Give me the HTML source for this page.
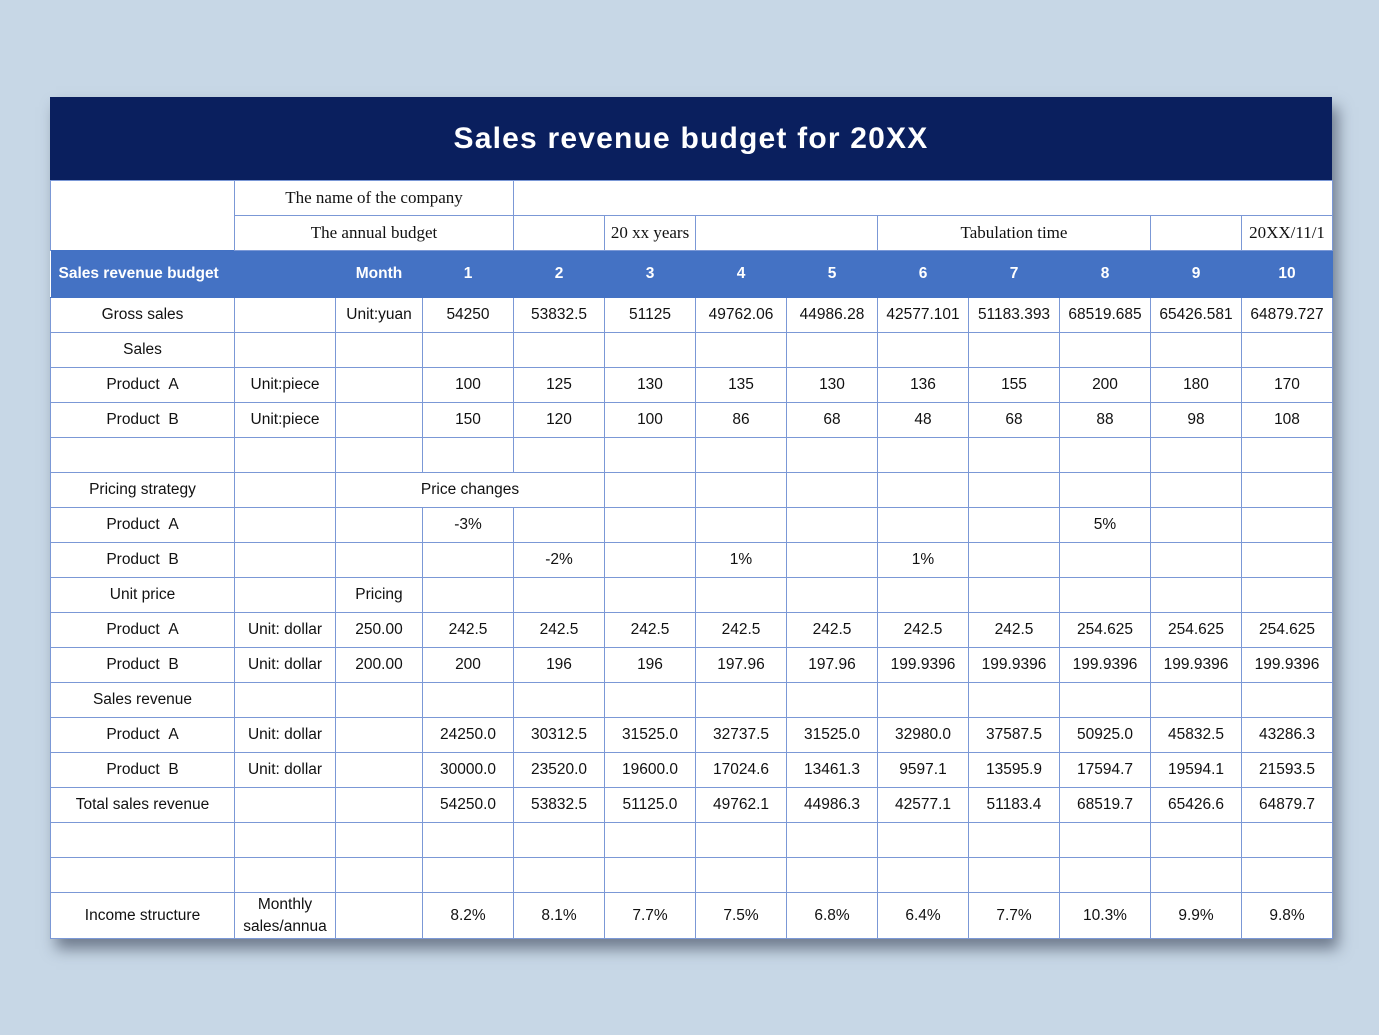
<!DOCTYPE html>
<html><head><meta charset="utf-8"><style>
body{margin:0;width:1379px;height:1035px;background:#c7d7e6;position:relative;overflow:hidden;font-family:"Liberation Sans",sans-serif}
.card{position:absolute;left:50px;top:97px;width:1282px;box-shadow:6px 10px 14px rgba(40,50,70,0.55);background:#fff}
.title{height:83px;background:#0a1f5e;color:#fff;font-weight:bold;font-size:30px;text-align:center;line-height:83px;letter-spacing:1.2px}
table{border-collapse:collapse;table-layout:fixed;width:1282px}
td{border:1px solid #7b98d6;text-align:center;font-size:15.5px;color:#111;padding:0;white-space:nowrap;overflow:hidden;height:35px;box-sizing:border-box}
tr.s td{font-family:"Liberation Serif",serif;font-size:17px}
tr.h td{background:#4472c4;color:#fff;font-weight:bold;border-left:none;border-right:none;height:47px;border-color:#4472c4}
tr.last td{height:46px}
</style></head><body>
<div class="card">
<div class="title">Sales revenue budget for 20XX</div>
<table>
<colgroup><col style="width:184px"><col style="width:101px"><col style="width:87px"><col span="10" style="width:91px"></colgroup>
<tr class="s"><td rowspan="2" style="border-bottom:none"></td><td colspan="3" style="height:34px">The name of the company</td><td colspan="9"></td></tr>
<tr class="s"><td colspan="3" style="height:35px">The annual budget</td><td></td><td>20 xx years</td><td colspan="2"></td><td colspan="3">Tabulation time</td><td></td><td>20XX/11/1</td></tr>
<tr class="h"><td colspan="2" style="text-align:left;padding-left:8px">Sales revenue budget</td><td>Month</td><td>1</td><td>2</td><td>3</td><td>4</td><td>5</td><td>6</td><td>7</td><td>8</td><td>9</td><td>10</td></tr>
<tr><td>Gross sales</td><td></td><td>Unit:yuan</td><td>54250</td><td>53832.5</td><td>51125</td><td>49762.06</td><td>44986.28</td><td>42577.101</td><td>51183.393</td><td>68519.685</td><td>65426.581</td><td>64879.727</td></tr>
<tr><td>Sales</td><td></td><td></td><td></td><td></td><td></td><td></td><td></td><td></td><td></td><td></td><td></td><td></td></tr>
<tr><td>Product &nbsp;A</td><td>Unit:piece</td><td></td><td>100</td><td>125</td><td>130</td><td>135</td><td>130</td><td>136</td><td>155</td><td>200</td><td>180</td><td>170</td></tr>
<tr><td>Product &nbsp;B</td><td>Unit:piece</td><td></td><td>150</td><td>120</td><td>100</td><td>86</td><td>68</td><td>48</td><td>68</td><td>88</td><td>98</td><td>108</td></tr>
<tr><td></td><td></td><td></td><td></td><td></td><td></td><td></td><td></td><td></td><td></td><td></td><td></td><td></td></tr>
<tr><td>Pricing strategy</td><td></td><td colspan="3">Price changes</td><td></td><td></td><td></td><td></td><td></td><td></td><td></td><td></td></tr>
<tr><td>Product &nbsp;A</td><td></td><td></td><td>-3%</td><td></td><td></td><td></td><td></td><td></td><td></td><td>5%</td><td></td><td></td></tr>
<tr><td>Product &nbsp;B</td><td></td><td></td><td></td><td>-2%</td><td></td><td>1%</td><td></td><td>1%</td><td></td><td></td><td></td><td></td></tr>
<tr><td>Unit price</td><td></td><td>Pricing</td><td></td><td></td><td></td><td></td><td></td><td></td><td></td><td></td><td></td><td></td></tr>
<tr><td>Product &nbsp;A</td><td>Unit: dollar</td><td>250.00</td><td>242.5</td><td>242.5</td><td>242.5</td><td>242.5</td><td>242.5</td><td>242.5</td><td>242.5</td><td>254.625</td><td>254.625</td><td>254.625</td></tr>
<tr><td>Product &nbsp;B</td><td>Unit: dollar</td><td>200.00</td><td>200</td><td>196</td><td>196</td><td>197.96</td><td>197.96</td><td>199.9396</td><td>199.9396</td><td>199.9396</td><td>199.9396</td><td>199.9396</td></tr>
<tr><td>Sales revenue</td><td></td><td></td><td></td><td></td><td></td><td></td><td></td><td></td><td></td><td></td><td></td><td></td></tr>
<tr><td>Product &nbsp;A</td><td>Unit: dollar</td><td></td><td>24250.0</td><td>30312.5</td><td>31525.0</td><td>32737.5</td><td>31525.0</td><td>32980.0</td><td>37587.5</td><td>50925.0</td><td>45832.5</td><td>43286.3</td></tr>
<tr><td>Product &nbsp;B</td><td>Unit: dollar</td><td></td><td>30000.0</td><td>23520.0</td><td>19600.0</td><td>17024.6</td><td>13461.3</td><td>9597.1</td><td>13595.9</td><td>17594.7</td><td>19594.1</td><td>21593.5</td></tr>
<tr><td>Total sales revenue</td><td></td><td></td><td>54250.0</td><td>53832.5</td><td>51125.0</td><td>49762.1</td><td>44986.3</td><td>42577.1</td><td>51183.4</td><td>68519.7</td><td>65426.6</td><td>64879.7</td></tr>
<tr><td></td><td></td><td></td><td></td><td></td><td></td><td></td><td></td><td></td><td></td><td></td><td></td><td></td></tr>
<tr><td></td><td></td><td></td><td></td><td></td><td></td><td></td><td></td><td></td><td></td><td></td><td></td><td></td></tr>
<tr class="last"><td>Income structure</td><td style="white-space:normal;line-height:22px">Monthly sales/annua</td><td></td><td>8.2%</td><td>8.1%</td><td>7.7%</td><td>7.5%</td><td>6.8%</td><td>6.4%</td><td>7.7%</td><td>10.3%</td><td>9.9%</td><td>9.8%</td></tr>
</table>
</div>
</body></html>
